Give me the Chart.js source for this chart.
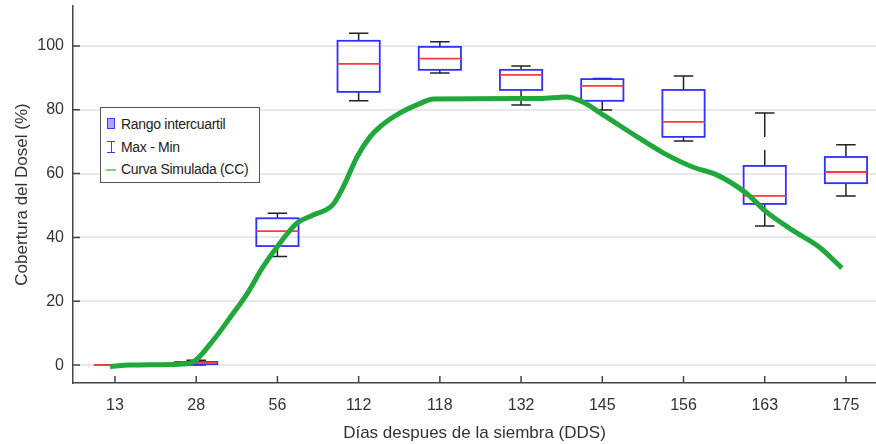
<!DOCTYPE html>
<html>
<head>
<meta charset="utf-8">
<script src="https://cdn.jsdelivr.net/npm/chart.js@4.4.1/dist/chart.umd.min.js"></script>
<style>
  html, body { margin: 0; padding: 0; background: #fff; }
  #wrap { position: relative; width: 876px; height: 444px; }
  #legend {
    position: absolute; left: 100px; top: 107px; width: 158px; height: 74px;
    border: 1px solid #555; background: #fff;
    font-family: "Liberation Sans", Arial, sans-serif; font-size: 14px; color: #222;
  }
  #legend .row { position: absolute; left: 0; height: 18px; line-height: 18px; white-space: nowrap; }
  #legend .txt { position: absolute; left: 20px; letter-spacing: -0.3px; }
  #legend .ico { position: absolute; }
</style>
</head>
<body>
<div id="wrap">
  <canvas id="chart" width="876" height="444"></canvas>
  <div id="legend">
    <div class="row" style="top:7px">
      <span class="ico" style="left:6px;top:3px;width:8px;height:11px;border:1.5px solid #3a3aff;background:#a9a9f5;box-sizing:border-box"></span>
      <span class="txt">Rango intercuartil</span>
    </div>
    <div class="row" style="top:30px">
      <span class="ico" style="left:6px;top:3px;width:8px;height:12px;border-top:1.5px solid #3a3aff;border-bottom:1.5px solid #3a3aff;box-sizing:border-box"></span>
      <span class="ico" style="left:9.5px;top:3px;width:1.5px;height:12px;background:#3a3aff"></span>
      <span class="txt">Max - Min</span>
    </div>
    <div class="row" style="top:52px">
      <span class="ico" style="left:5px;top:9px;width:10px;height:1.5px;background:#7fcf8f"></span>
      <span class="txt">Curva Simulada (CC)</span>
    </div>
  </div>
</div>
<script>
// días después de la siembra
const days = ['13', '28', '56', '112', '118', '132', '145', '156', '163', '175'];

// cobertura observada (%)
const whiskerMin = [0, 0, 34, 82.8, 91.5, 81.5, 79.9, 70.2, 43.6, 53];
const q1 = [0, 0.3, 37.3, 85.6, 92.5, 86.2, 82.8, 71.5, 50.5, 57];
const median = [0, 0.8, 42, 94.4, 96, 90.9, 87.5, 76.2, 53, 60.5];
const q3 = [0, 1, 46, 101.6, 99.7, 92.5, 89.6, 86.2, 62.4, 65.2];
const whiskerMax = [0, 1.5, 47.6, 104, 101.3, 93.7, 89.8, 90.6, 79, 69];

// curva simulada (posición en el eje de categorías, CC %)
const simX = [-0.06, 0.18, 0.8, 0.96, 1.21, 1.42, 1.63, 1.82, 2.03, 2.24, 2.44, 2.68, 2.81, 2.98, 3.14,
  3.26, 3.51, 3.76, 3.92, 5.23, 5.56, 5.76, 6.01, 6.43, 6.75, 7.12, 7.41, 7.77, 8.02, 8.34, 8.67, 8.95];
const simY = [-0.5, 0, 0.3, 1, 7.8, 15, 22.5, 30.7, 38.2, 44.5, 47, 50.2, 55.8, 65.2, 71.5,
  74.6, 79, 82, 83.4, 83.5, 84, 82.4, 78.4, 71.5, 66.5, 62, 59.6, 53.9, 48, 42.3, 37, 30.4];

const yTicks = [0, 20, 40, 60, 80, 100];

const axisColor = '#454545';
const tickFont = { family: 'Liberation Sans, Arial, sans-serif', size: 16 };

const boxPlot = {
  id: 'boxPlot',
  beforeDatasetsDraw(chart) {
    const { ctx, scales: { x, y } } = chart;
    ctx.save();
    days.forEach((d, i) => {
      const cx = x.getPixelForValue(i);
      const half = x.getPixelForValue(i + 0.26) - cx;
      const cap = x.getPixelForValue(i + 0.12) - cx;
      const yMin = y.getPixelForValue(whiskerMin[i]);
      const yQ1 = y.getPixelForValue(q1[i]);
      const yMed = y.getPixelForValue(median[i]);
      const yQ3 = y.getPixelForValue(q3[i]);
      const yMax = y.getPixelForValue(whiskerMax[i]);

      // whiskers
      ctx.strokeStyle = '#222';
      ctx.lineWidth = 1.5;
      ctx.setLineDash([24, 13]);
      ctx.beginPath();
      ctx.moveTo(cx, yMax); ctx.lineTo(cx, yQ3);
      ctx.moveTo(cx, yMin); ctx.lineTo(cx, yQ1);
      ctx.stroke();
      ctx.setLineDash([]);
      ctx.beginPath();
      ctx.moveTo(cx - cap, yMax); ctx.lineTo(cx + cap, yMax);
      ctx.moveTo(cx - cap, yMin); ctx.lineTo(cx + cap, yMin);
      ctx.stroke();

      // box
      ctx.strokeStyle = '#3030ff';
      ctx.lineWidth = 1.8;
      ctx.strokeRect(cx - half, yQ3, half * 2, yQ1 - yQ3);

      // median
      ctx.strokeStyle = '#ff3a3a';
      ctx.beginPath();
      ctx.moveTo(cx - half, yMed); ctx.lineTo(cx + half, yMed);
      ctx.stroke();
    });
    ctx.restore();
  },
  afterDraw(chart) {
    // inward tick marks like the original figure
    const { ctx, chartArea, scales: { x, y } } = chart;
    ctx.save();
    ctx.strokeStyle = axisColor;
    ctx.lineWidth = 1.5;
    ctx.beginPath();
    days.forEach((d, i) => {
      const px = x.getPixelForValue(i);
      ctx.moveTo(px, chartArea.bottom);
      ctx.lineTo(px, chartArea.bottom - 7);
    });
    yTicks.forEach(v => {
      const py = y.getPixelForValue(v);
      ctx.moveTo(chartArea.left, py);
      ctx.lineTo(chartArea.left + 7, py);
    });
    ctx.stroke();
    ctx.restore();
  }
};

new Chart(document.getElementById('chart'), {
  type: 'line',
  data: {
    datasets: [
      {
        label: 'Curva Simulada (CC)',
        data: simX.map((v, i) => ({ x: v, y: simY[i] })),
        borderColor: '#20a83a',
        borderWidth: 5,
        pointRadius: 0,
        cubicInterpolationMode: 'monotone',
        fill: false,
      },
    ],
  },
  options: {
    responsive: false,
    animation: false,
    layout: { padding: { top: 6, right: 0, left: 0, bottom: 0 } },
    plugins: {
      legend: { display: false },
      tooltip: { enabled: false },
    },
    scales: {
      x: {
        type: 'linear',
        min: -0.517,
        max: 9.37,
        afterBuildTicks: (scale) => { scale.ticks = days.map((d, i) => ({ value: i })); },
        afterFit: (scale) => { scale.height = 61; scale.paddingLeft = 0; scale.paddingRight = 0; },
        ticks: {
          callback: (v) => days[v],
          color: '#333',
          font: tickFont,
          padding: 13,
          maxRotation: 0,
        },
        grid: { display: false, drawTicks: false },
        border: { color: axisColor, width: 1.5 },
        title: {
          display: true,
          text: 'Días despues de la siembra (DDS)',
          color: '#333',
          font: { family: 'Liberation Sans, Arial, sans-serif', size: 17 },
          padding: { top: 3, bottom: 0 },
        },
      },
      y: {
        min: -5.6,
        max: 112.5,
        afterBuildTicks: (scale) => { scale.ticks = yTicks.map(v => ({ value: v })); },
        afterFit: (scale) => { scale.width = 73; scale.paddingTop = 0; scale.paddingBottom = 0; },
        ticks: {
          color: '#333',
          font: tickFont,
          padding: 9,
        },
        grid: { color: '#e8e8e8', lineWidth: 2, drawTicks: false },
        border: { color: axisColor, width: 1.5 },
        title: {
          display: true,
          text: 'Cobertura del Dosel (%)',
          color: '#333',
          font: { family: 'Liberation Sans, Arial, sans-serif', size: 17 },
          padding: { top: 12, bottom: 0 },
        },
      },
    },
  },
  plugins: [boxPlot],
});
</script>
</body>
</html>
